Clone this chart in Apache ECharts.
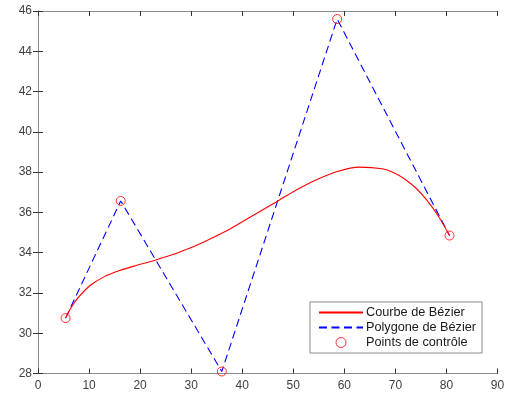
<!DOCTYPE html>
<html><head><meta charset="utf-8">
<script src="https://cdn.jsdelivr.net/npm/echarts@6/dist/echarts.min.js"></script>
<style>html,body{margin:0;padding:0;background:#fff}#c{width:512px;height:399px}</style>
</head><body><div id="c"></div>
<script>
// Control points (Points de contrôle / Polygone de Bézier)
const ctrlX = [5.4, 16.2, 36.0, 58.6, 80.6];
const ctrlY = [30.75, 36.57, 28.1, 45.6, 34.85];
// Bézier curve, points
const curveX = [5.4, 6.5, 7.7, 10.2, 13.0, 16.0, 19.2, 22.6, 26.1, 29.8, 33.6, 37.6, 41.6, 45.8, 50.0, 54.3, 58.6, 63.0, 67.4, 69.6, 71.8, 74.0, 76.2, 78.4, 80.6];
const curveY = [30.75, 31.28, 31.72, 32.37, 32.81, 33.11, 33.36, 33.60, 33.88, 34.23, 34.67, 35.18, 35.77, 36.39, 37.02, 37.59, 38.03, 38.25, 38.17, 37.98, 37.66, 37.21, 36.60, 35.82, 34.85];
const xTicks = [0, 90, 10];
const yTicks = [28, 46, 2];
const names = ['Courbe de Bézier', 'Polygone de Bézier', 'Points de contrôle'];

const pair = (xs, ys) => xs.map((x, i) => [x, ys[i]]);
const axCol = '#8c8c8c';
const lblCol = '#404040';
const font = 'Liberation Sans, Arial, sans-serif';

const chart = echarts.init(document.getElementById('c'));
chart.setOption({
  animation: false,
  grid: {left: 38, top: 11, right: 14.5, bottom: 25.5, containLabel: false},
  xAxis: [
    {type: 'value', min: xTicks[0], max: xTicks[1], interval: xTicks[2], position: 'bottom',
     axisLine: {lineStyle: {color: axCol}}, axisTick: {inside: true, length: 5, lineStyle: {color: '#333'}},
     axisLabel: {color: lblCol, fontSize: 12, fontFamily: font, margin: 6}, splitLine: {show: false}},
    {type: 'value', min: xTicks[0], max: xTicks[1], interval: xTicks[2], position: 'top',
     axisLine: {lineStyle: {color: axCol}}, axisTick: {inside: true, length: 5, lineStyle: {color: '#333'}},
     axisLabel: {show: false}, splitLine: {show: false}}
  ],
  yAxis: [
    {type: 'value', min: yTicks[0], max: yTicks[1], interval: yTicks[2], position: 'left',
     axisLine: {show: true, lineStyle: {color: axCol}}, axisTick: {show: true, inside: true, length: 5, lineStyle: {color: '#333'}},
     axisLabel: {color: lblCol, fontSize: 12, fontFamily: font, margin: 6}, splitLine: {show: false}},
    {type: 'value', min: yTicks[0], max: yTicks[1], interval: yTicks[2], position: 'right',
     axisLine: {show: true, lineStyle: {color: axCol}}, axisTick: {show: true, inside: true, length: 5, lineStyle: {color: '#333'}},
     axisLabel: {show: false}, splitLine: {show: false}}
  ],
  legend: {
    orient: 'vertical', left: 310, top: 302,
    backgroundColor: '#fff', borderColor: '#8c8c8c', borderWidth: 1,
    padding: [4, 6, 4, 8], itemGap: 2, itemWidth: 44, itemHeight: 10,
    textStyle: {color: '#1a1a1a', fontSize: 12.7, fontFamily: font, padding: [0, 0, 0, -2]},
    data: [
      {name: names[0], itemStyle: {opacity: 0}},
      {name: names[1], itemStyle: {opacity: 0}},
      {name: names[2], icon: 'circle', itemStyle: {color: 'rgba(0,0,0,0)', borderColor: '#ff0000', borderWidth: 1}}
    ]
  },
  series: [
    {name: names[0], type: 'line', data: pair(curveX, curveY), smooth: 0.3, symbol: 'none',
     lineStyle: {color: '#ff0000', width: 1.1}, itemStyle: {color: '#ff0000'}, z: 3},
    {name: names[1], type: 'line', data: pair(ctrlX, ctrlY), symbol: 'none',
     lineStyle: {color: '#0000ff', width: 1.1, type: [8, 4.5]}, itemStyle: {color: '#0000ff'}, z: 2},
    {name: names[2], type: 'scatter', data: pair(ctrlX, ctrlY), symbol: 'circle', symbolSize: 9,
     itemStyle: {color: 'rgba(0,0,0,0)', borderColor: '#ff0000', borderWidth: 1}, z: 4}
  ]
});
</script></body></html>
